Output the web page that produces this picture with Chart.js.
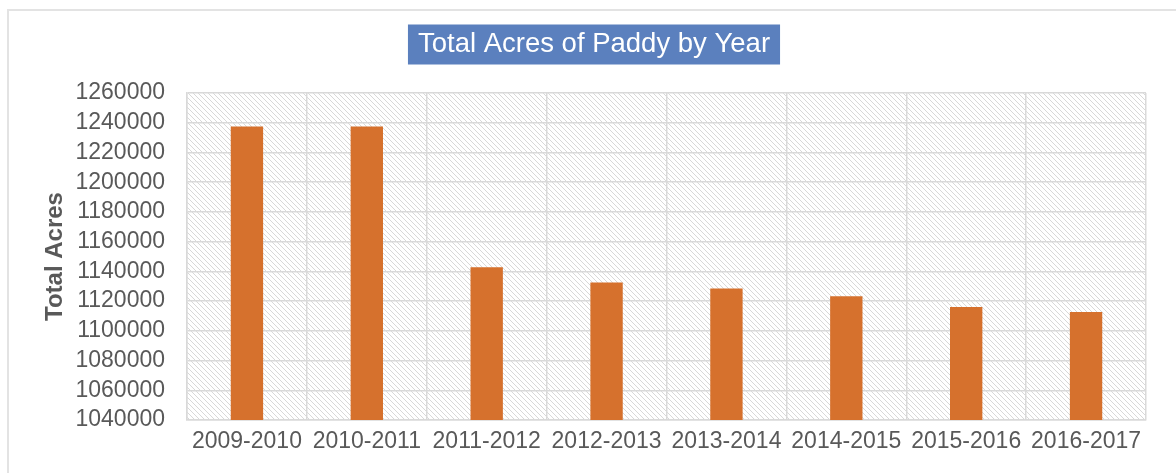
<!DOCTYPE html>
<html lang="en">
<head>
<meta charset="UTF-8">
<title>Total Acres of Paddy by Year</title>
<script src="https://cdn.jsdelivr.net/npm/chart.js"></script>
<style>
  * { margin: 0; padding: 0; box-sizing: border-box; }
  body { background: #fff; width: 1176px; height: 473px; overflow: hidden; position: relative; }
  .frame {
    position: absolute; left: 7px; top: 9px; width: 1200px; height: 500px;
    border: 2px solid #e3e3e3;
  }
  .wrap { position: absolute; left: 0; top: 0; width: 1176px; height: 473px; }
</style>
</head>
<body>
<div class="frame"></div>
<div class="wrap"><canvas id="chart" width="1176" height="473"></canvas></div>
<script>
// data
const years = ['2009-2010', '2010-2011', '2011-2012', '2012-2013',
               '2013-2014', '2014-2015', '2015-2016', '2016-2017'];
const totalAcres = [1237500, 1237500, 1142800, 1132500,
                    1128500, 1123300, 1116100, 1112700];
const yMin = 1040000;
const yMax = 1260000;
const yStep = 20000;

const barColor = '#d6712d';
const titleBoxColor = '#5b80be';
const gridColor = '#d9d9d9';
const textColor = '#595959';
const fontFamily = 'Liberation Sans, Arial, sans-serif';

// diagonal hatch behind the plot area
function makeHatch() {
  const c = document.createElement('canvas');
  const s = 5;
  c.width = s; c.height = s;
  const g = c.getContext('2d');
  g.fillStyle = '#ffffff';
  g.fillRect(0, 0, s, s);
  g.strokeStyle = '#d8d8d8';
  g.lineWidth = 1;
  g.beginPath();
  g.moveTo(0, 0); g.lineTo(s, s);
  g.moveTo(-1, s - 1); g.lineTo(1, s + 1);
  g.moveTo(s - 1, -1); g.lineTo(s + 1, 1);
  g.stroke();
  return c;
}

const backgroundPlugin = {
  id: 'backgrounds',
  beforeDraw(chart) {
    const ctx = chart.ctx;
    const a = chart.chartArea;
    ctx.save();
    ctx.fillStyle = ctx.createPattern(makeHatch(), 'repeat');
    ctx.fillRect(a.left, a.top, a.right - a.left, a.bottom - a.top);

    // blue box behind the title
    const tb = chart.titleBlock;
    if (tb) {
      const opts = chart.options.plugins.title;
      ctx.font = `${opts.font.size}px ${opts.font.family}`;
      const w = ctx.measureText(opts.text).width;
      const cx = (tb.left + tb.right) / 2;
      const cy = tb.top + opts.padding.top + opts.font.size * 1.2 / 2;
      ctx.fillStyle = titleBoxColor;
      ctx.fillRect(cx - w / 2 - 10, cy - 20, w + 20, 40);
    }
    ctx.restore();
  }
};

new Chart(document.getElementById('chart'), {
  type: 'bar',
  data: {
    labels: years,
    datasets: [{
      label: 'Total Acres',
      data: totalAcres,
      backgroundColor: barColor,
      borderWidth: 0,
      categoryPercentage: 0.54,
      barPercentage: 0.5
    }]
  },
  plugins: [backgroundPlugin],
  options: {
    responsive: false,
    animation: false,
    layout: { padding: { left: 42, right: 30, top: 0, bottom: 0 } },
    plugins: {
      legend: { display: false },
      tooltip: { enabled: false },
      title: {
        display: true,
        text: 'Total Acres of Paddy by Year',
        color: '#ffffff',
        font: { family: fontFamily, size: 27.5, weight: 'normal' },
        padding: { top: 28, bottom: 32 }
      }
    },
    scales: {
      x: {
        grid: { color: gridColor, lineWidth: 1.5, drawTicks: false, offset: true },
        border: { color: gridColor, width: 1.5 },
        ticks: {
          color: textColor,
          font: { family: fontFamily, size: 23 },
          padding: 8,
          maxRotation: 0,
          autoSkip: false
        },
        afterFit(scale) { scale.height = 53; }
      },
      y: {
        min: yMin,
        max: yMax,
        grid: { color: gridColor, lineWidth: 1.5, drawTicks: false },
        border: { color: gridColor, width: 1.5 },
        ticks: {
          stepSize: yStep,
          autoSkip: false,
          color: textColor,
          font: { family: fontFamily, size: 23, lineHeight: 1 },
          padding: 22,
          callback: v => String(v)
        },
        title: {
          display: true,
          text: 'Total Acres',
          color: textColor,
          font: { family: fontFamily, size: 24, weight: 'bold' },
          padding: { top: -1, bottom: 0 }
        },
        afterFit(scale) { scale.width = 145; }
      }
    }
  }
});
</script>
</body>
</html>
